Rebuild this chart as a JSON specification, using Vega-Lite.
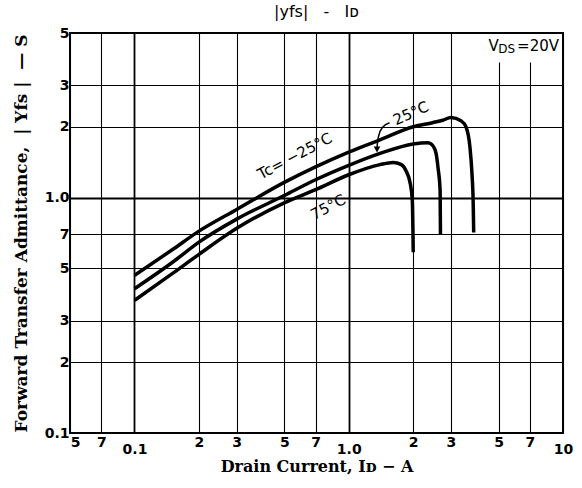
{
  "$schema": "https://vega.github.io/schema/vega-lite/v6.json",
  "width": 493,
  "height": 400,
  "autosize": "none",
  "padding": {"left": 70, "top": 33, "right": 19, "bottom": 55},
  "background": "white",
  "config": {
    "view": {"stroke": "black", "strokeWidth": 2},
    "font": "DejaVu Sans"
  },
  "title": {
    "text": "|yfs|\u00a0\u00a0 -\u00a0\u00a0 Iᴅ",
    "fontSize": 16,
    "fontWeight": "normal",
    "font": "DejaVu Sans",
    "color": "black",
    "offset": 6,
    "anchor": "middle"
  },
  "datasets": {
    "curves": [
      {"Tc": "-25°C", "id": 0.1, "yfs": 0.467},
      {"Tc": "-25°C", "id": 0.15, "yfs": 0.60},
      {"Tc": "-25°C", "id": 0.2, "yfs": 0.72},
      {"Tc": "-25°C", "id": 0.3, "yfs": 0.89},
      {"Tc": "-25°C", "id": 0.5, "yfs": 1.16},
      {"Tc": "-25°C", "id": 0.7, "yfs": 1.35},
      {"Tc": "-25°C", "id": 1.0, "yfs": 1.56},
      {"Tc": "-25°C", "id": 1.4, "yfs": 1.76},
      {"Tc": "-25°C", "id": 2.0, "yfs": 2.0},
      {"Tc": "-25°C", "id": 2.46, "yfs": 2.08},
      {"Tc": "-25°C", "id": 2.75, "yfs": 2.13},
      {"Tc": "-25°C", "id": 3.0, "yfs": 2.19},
      {"Tc": "-25°C", "id": 3.34, "yfs": 2.12},
      {"Tc": "-25°C", "id": 3.53, "yfs": 1.99},
      {"Tc": "-25°C", "id": 3.68, "yfs": 1.63},
      {"Tc": "-25°C", "id": 3.76, "yfs": 1.26},
      {"Tc": "-25°C", "id": 3.81, "yfs": 0.94},
      {"Tc": "-25°C", "id": 3.83, "yfs": 0.71},
      {"Tc": "25°C", "id": 0.1, "yfs": 0.41},
      {"Tc": "25°C", "id": 0.15, "yfs": 0.53},
      {"Tc": "25°C", "id": 0.2, "yfs": 0.647},
      {"Tc": "25°C", "id": 0.3, "yfs": 0.81},
      {"Tc": "25°C", "id": 0.5, "yfs": 1.02},
      {"Tc": "25°C", "id": 0.7, "yfs": 1.19},
      {"Tc": "25°C", "id": 1.0, "yfs": 1.37},
      {"Tc": "25°C", "id": 1.4, "yfs": 1.54},
      {"Tc": "25°C", "id": 2.0, "yfs": 1.69},
      {"Tc": "25°C", "id": 2.34, "yfs": 1.71},
      {"Tc": "25°C", "id": 2.47, "yfs": 1.66},
      {"Tc": "25°C", "id": 2.56, "yfs": 1.53},
      {"Tc": "25°C", "id": 2.61, "yfs": 1.34},
      {"Tc": "25°C", "id": 2.67, "yfs": 1.07},
      {"Tc": "25°C", "id": 2.68, "yfs": 0.70},
      {"Tc": "75°C", "id": 0.1, "yfs": 0.366},
      {"Tc": "75°C", "id": 0.15, "yfs": 0.475},
      {"Tc": "75°C", "id": 0.2, "yfs": 0.574},
      {"Tc": "75°C", "id": 0.3, "yfs": 0.74},
      {"Tc": "75°C", "id": 0.5, "yfs": 0.95},
      {"Tc": "75°C", "id": 0.7, "yfs": 1.08},
      {"Tc": "75°C", "id": 1.0, "yfs": 1.25},
      {"Tc": "75°C", "id": 1.4, "yfs": 1.38},
      {"Tc": "75°C", "id": 1.61, "yfs": 1.41},
      {"Tc": "75°C", "id": 1.76, "yfs": 1.38},
      {"Tc": "75°C", "id": 1.85, "yfs": 1.30},
      {"Tc": "75°C", "id": 1.94, "yfs": 1.14},
      {"Tc": "75°C", "id": 1.98, "yfs": 0.97},
      {"Tc": "75°C", "id": 2.0, "yfs": 0.586}
    ],
    "arrow": [
      {"ord": 1, "id": 1.55, "yfs": 2.08},
      {"ord": 2, "id": 1.44, "yfs": 1.99},
      {"ord": 3, "id": 1.38, "yfs": 1.83},
      {"ord": 4, "id": 1.36, "yfs": 1.69},
      {"ord": 5, "id": 1.355, "yfs": 1.61}
    ]
  },
  "layer": [
    {
      "data": {"name": "curves"},
      "mark": {"type": "line", "color": "black", "strokeWidth": 3.5, "interpolate": "monotone", "strokeCap": "butt", "clip": true},
      "encoding": {
        "x": {
          "field": "id",
          "type": "quantitative",
          "scale": {"type": "log", "domain": [0.05, 10], "nice": false},
          "axis": {
            "values": [0.05, 0.07, 0.1, 0.2, 0.3, 0.5, 0.7, 1, 2, 3, 5, 7, 10],
            "labelExpr": "datum.value == 0.1 ? '0.1' : datum.value == 1 ? '1.0' : datum.value == 10 ? '10' : format(datum.value / pow(10, floor(log(datum.value) / LN10 + 1e-9)), '.0f')",
            "grid": true,
            "gridColor": "black",
            "gridOpacity": 1,
            "gridWidth": {"condition": {"test": "datum.value == 0.1 || datum.value == 1", "value": 1.8}, "value": 1.1},
            "ticks": false,
            "domain": false,
            "labelFont": "DejaVu Sans",
            "labelFontWeight": "bold",
            "labelFontSize": 14,
            "labelColor": "black",
            "labelPadding": 9,
            "labelOffset": {"condition": {"test": "datum.value == 0.05", "value": 5}, "value": 0},
            "labelBaseline": {"condition": {"test": "datum.value == 0.1 || datum.value == 1 || datum.value == 10", "value": "top"}, "value": "middle"},
            "labelFlush": false,
            "labelOverlap": false,
            "title": "Drain Current, Iᴅ − A",
            "titleFont": "DejaVu Serif",
            "titleFontSize": 16,
            "titleFontWeight": "bold",
            "titleColor": "black",
            "titlePadding": 2
          }
        },
        "y": {
          "field": "yfs",
          "type": "quantitative",
          "scale": {"type": "log", "domain": [0.1, 5], "nice": false},
          "axis": {
            "values": [0.1, 0.2, 0.3, 0.5, 0.7, 1, 2, 3, 5],
            "labelExpr": "datum.value == 0.1 ? '0.1' : datum.value == 1 ? '1.0' : format(datum.value / pow(10, floor(log(datum.value) / LN10 + 1e-9)), '.0f')",
            "grid": true,
            "gridColor": "black",
            "gridOpacity": 1,
            "gridWidth": {"condition": {"test": "datum.value == 1", "value": 1.8}, "value": 1.1},
            "ticks": false,
            "domain": false,
            "labelFont": "DejaVu Sans",
            "labelFontWeight": "bold",
            "labelFontSize": 14,
            "labelColor": "black",
            "labelPadding": 1,
            "labelFlush": false,
            "labelOverlap": false,
            "title": "Forward Transfer Admittance,\u00a0 | Yfs |\u00a0 — S",
            "titleFont": "DejaVu Serif",
            "titleFontSize": 17,
            "titleFontWeight": "bold",
            "titleColor": "black",
            "titlePadding": 14
          }
        },
        "detail": {"field": "Tc", "type": "nominal"}
      }
    },
    {
      "data": {"values": [{}]},
      "mark": {"type": "rect", "fill": "white", "stroke": null},
      "encoding": {
        "x": {"datum": 4.1},
        "x2": {"datum": 9.85},
        "y": {"datum": 3.75},
        "y2": {"datum": 4.95}
      }
    },
    {
      "data": {"values": [{}]},
      "mark": {"type": "text", "text": "=20V", "align": "right", "baseline": "alphabetic", "fontSize": 15, "font": "DejaVu Sans", "color": "black"},
      "encoding": {"x": {"datum": 9.58}, "y": {"datum": 4.2}}
    },
    {
      "data": {"values": [{}]},
      "mark": {"type": "text", "text": "DS", "align": "right", "baseline": "alphabetic", "fontSize": 12, "font": "DejaVu Sans", "color": "black"},
      "encoding": {"x": {"datum": 5.98}, "y": {"datum": 4.1}}
    },
    {
      "data": {"values": [{}]},
      "mark": {"type": "text", "text": "V", "align": "right", "baseline": "alphabetic", "fontSize": 15, "font": "DejaVu Sans", "color": "black"},
      "encoding": {"x": {"datum": 5.01}, "y": {"datum": 4.2}}
    },
    {
      "data": {"values": [{}]},
      "mark": {"type": "text", "text": "Tc= −25°C", "align": "center", "baseline": "middle", "angle": 332, "fontSize": 15, "font": "DejaVu Sans", "color": "black"},
      "encoding": {"x": {"datum": 0.56}, "y": {"datum": 1.5}}
    },
    {
      "data": {"values": [{}]},
      "mark": {"type": "text", "text": "25°C", "align": "center", "baseline": "middle", "angle": 336, "fontSize": 15, "font": "DejaVu Sans", "color": "black"},
      "encoding": {"x": {"datum": 1.95}, "y": {"datum": 2.28}}
    },
    {
      "data": {"values": [{}]},
      "mark": {"type": "text", "text": "75°C", "align": "center", "baseline": "middle", "angle": 332, "fontSize": 15, "font": "DejaVu Sans", "color": "black"},
      "encoding": {"x": {"datum": 0.8}, "y": {"datum": 0.91}}
    },
    {
      "data": {"name": "arrow"},
      "mark": {"type": "line", "color": "black", "strokeWidth": 1.5, "interpolate": "monotone"},
      "encoding": {
        "x": {"field": "id", "type": "quantitative"},
        "y": {"field": "yfs", "type": "quantitative"},
        "order": {"field": "ord"}
      }
    },
    {
      "data": {"values": [{}]},
      "mark": {"type": "point", "shape": "triangle-down", "filled": true, "color": "black", "size": 45, "opacity": 1},
      "encoding": {"x": {"datum": 1.355}, "y": {"datum": 1.6}}
    }
  ]
}
